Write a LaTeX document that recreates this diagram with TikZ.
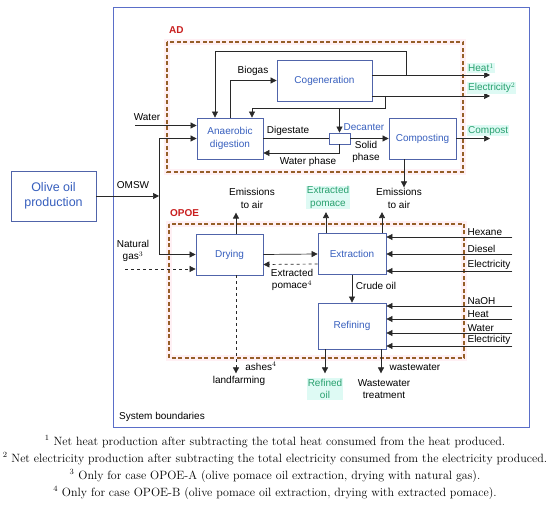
\documentclass[tikz,border=0pt]{standalone}
\usepackage{fontspec}
\setsansfont{Liberation Sans}
\usetikzlibrary{arrows.meta, positioning, calc}

\definecolor{boxc}{RGB}{80,100,170}
\definecolor{procc}{RGB}{55,95,190}
\definecolor{sysc}{RGB}{90,110,200}
\definecolor{dashc}{RGB}{150,95,40}
\definecolor{glowc}{RGB}{255,240,244}
\definecolor{grpc}{RGB}{200,30,30}
\definecolor{prodc}{RGB}{40,160,110}
\definecolor{prodbg}{RGB}{222,250,244}
\definecolor{linec}{RGB}{40,40,40}

\begin{document}
\begin{tikzpicture}[x=1pt, y=1pt,
  font=\sffamily\fontsize{10}{12.5}\selectfont,
  proc/.style={draw=boxc, fill=white, text=procc, align=center,
               line width=0.8pt, inner sep=2pt},
  lbl/.style={align=center, inner sep=1pt},
  prod/.style={lbl, text=prodc, fill=prodbg},
  arr/.style={-{Triangle[length=6pt, width=6pt]}, line width=0.7pt, draw=linec},
  lin/.style={line width=0.7pt, draw=linec},
  dbox/.style={draw=dashc, line width=1.4pt, dash pattern=on 4pt off 2.5pt},
  glow/.style={draw=glowc, line width=6pt},
  grp/.style={text=grpc, font=\sffamily\bfseries\fontsize{10}{12}\selectfont,
              anchor=west, inner sep=0pt},
]
\useasboundingbox (0,0) rectangle (550,-513);

%% Boundaries
\draw[sysc, line width=0.9pt] (113,-7) rectangle (529,-427);
\node[anchor=west, inner sep=0pt] (sys) at (119,-417) {System boundaries};
\draw[glow] (167,-42) rectangle (463,-172);
\draw[dbox] (167,-42) rectangle (463,-172);
\node[grp] (adlbl) at (169,-30) {AD};
\draw[glow] (169,-224) rectangle (464,-358);
\draw[dbox] (169,-224) rectangle (464,-358);
\node[grp] (opoelbl) at (170,-213) {OPOE};

%% Processes
\node[proc, minimum width=85pt, minimum height=50pt,
      font=\sffamily\fontsize{12.5}{15}\selectfont] (olive) at (53.5,-196) {Olive oil\\production};
\node[proc, minimum width=95pt, minimum height=41pt] (cogen) at (324.5,-80.5) {Cogeneration};
\node[proc, minimum width=66pt, minimum height=41pt] (ad) at (230,-138.5) {Anaerobic\\digestion};
\node[proc, minimum width=67pt, minimum height=41pt] (comp) at (422.5,-138.5) {Composting};
\node[proc, minimum width=21pt, minimum height=11pt, inner sep=0pt] (dec) at (339.5,-138.5) {};
\node[proc, minimum width=67pt, minimum height=41pt] (dry) at (229.5,-254.5) {Drying};
\node[proc, minimum width=68pt, minimum height=41pt] (ext) at (352,-254) {Extraction};
\node[proc, minimum width=68pt, minimum height=46pt] (ref) at (352,-326) {Refining};

%% Labels
\node[lbl] (biogas) at (253,-71) {Biogas};
\node[lbl] (water) at (147,-117) {Water};
\node[lbl] (omsw) at (133,-185) {OMSW};
\node[lbl] (ngas) at (133,-251) {Natural\\gas$^3$};
\node[lbl] (dig) at (288,-131) {Digestate};
\node[lbl, text=procc] (declbl) at (364,-127) {Decanter};
\node[lbl] (wphase) at (308,-162) {Water phase};
\node[lbl] (sphase) at (366,-152) {Solid\\phase};
\node[lbl] (emdry) at (252,-198.5) {Emissions\\to air};
\node[prod] (pomace) at (328,-197.5) {Extracted\\pomace};
\node[lbl] (emext) at (399,-198.5) {Emissions\\to air};
\node[lbl] (pomfb) at (292,-280) {Extracted\\pomace$^4$};
\node[lbl] (crude) at (376,-286) {Crude oil};
\node[lbl] (ashes) at (261,-366) {ashes$^4$};
\node[lbl] (landf) at (239,-381) {landfarming};
\node[prod] (refoil) at (325,-389) {Refined\\oil};
\node[lbl] (wwlbl) at (415,-367) {wastewater};
\node[lbl] (wwt) at (384,-389) {Wastewater\\treatment};

%% Outputs of AD
\coordinate (heatend) at (490,-75);
\coordinate (elend) at (490,-96);
\coordinate (compend) at (490,-138.5);
\coordinate (hb) at (406,-75);
\coordinate (eb) at (385,-96);
\draw[arr] (cogen.east |- heatend) -- (heatend);
\node[prod, anchor=south west] (heatlbl) at (467,-73) {Heat$^1$};
\draw[arr] (cogen.east |- elend) -- (elend);
\node[prod, anchor=south west] (ellbl) at (467,-94) {Electricity$^2$};
\draw[arr] (comp.east) -- (compend);
\node[prod, anchor=south west] (complbl) at (467,-136.5) {Compost};

%% AD internal flows
\draw[arr] (ad.north) |- (cogen.west);
\draw[arr] (hb) -- ++(0,24) -| ([xshift=-15pt]ad.north);
\draw[arr] (eb) -- ++(0,-12) -| ([xshift=22pt]ad.north);
\draw[arr] (dec.north |- 0,-108) -- (dec.north);
\draw[lin] (ad.east) -- (dec.west);
\draw[arr] (dec.south) |- ([yshift=-14.5pt]ad.east);
\draw[arr] (dec.east) -- (comp.west);
\draw[arr] ([xshift=-18.5pt]comp.south) -- ([xshift=5pt]emext.north);

%% Inputs
\coordinate (wstart) at (135,-125.5);
\coordinate (split) at (159,-196);
\coordinate (gstart) at (125,-269);
\draw[arr] (wstart) -- (ad.west |- wstart);
\draw[arr] (olive.east) -- (split);
\draw[arr] (split) |- (ad.west);
\draw[arr] (split) |- (dry.west);
\draw[arr, dashed] (gstart) -- (dry.west |- gstart);

%% OPOE flows
\draw[arr] ([xshift=6.5pt]dry.north) -- ++(0,21);
\draw[arr] (dry.east) -- (ext.west);
\draw[arr, dashed] ([yshift=-10pt]ext.west) -- ([yshift=-10pt]dry.east);
\draw[arr, dashed] ([xshift=6.5pt]dry.south) -- ++(0,-98);
\draw[arr] ([xshift=-26pt]ext.north) -- ++(0,21);
\draw[arr] ([xshift=30pt]ext.north) -- ++(0,21);
\draw[arr] (ext.south) -- (ref.north);
\draw[arr] ([xshift=-27pt]ref.south) -- ++(0,-24);
\draw[arr] ([xshift=29pt]ref.south) -- ++(0,-24);

%% Inputs from the right
\foreach \dy/\txt in {17/Hexane, 0/Diesel, -17/Electricity} {
  \draw[arr] ($(ext.east)+(126,\dy)$) -- ([yshift=\dy pt]ext.east);
  \node[lbl, anchor=south west] at ($(ext.east)+(80,\dy+0.5)$) {\txt};
}
\foreach \dy/\txt in {20/NaOH, 7/Heat, -7/Water, -20/Electricity} {
  \draw[arr] ($(ref.east)+(126,\dy)$) -- ([yshift=\dy pt]ref.east);
  \node[lbl, anchor=south west] at ($(ref.east)+(80,\dy+0.5)$) {\txt};
}

%% Notes
\node[align=center, font=\rmfamily\fontsize{12}{17}\selectfont] (notes) at (275,-467.5) {%
$^1$ Net heat production after subtracting the total heat consumed from the heat produced.\\
$^2$ Net electricity production after subtracting the total electricity consumed from the electricity produced.\\
$^3$ Only for case OPOE-A (olive pomace oil extraction, drying with natural gas).\\
$^4$ Only for case OPOE-B (olive pomace oil extraction, drying with extracted pomace).};
\end{tikzpicture}
\end{document}
